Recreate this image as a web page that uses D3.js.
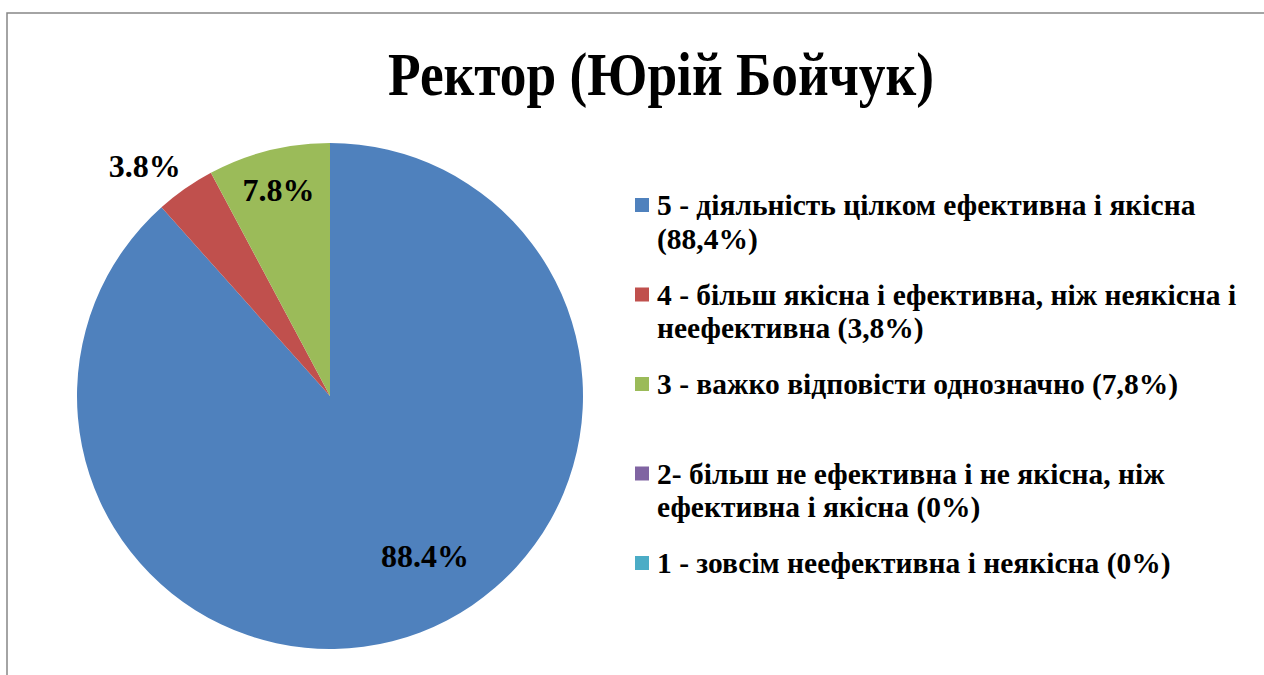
<!DOCTYPE html>
<html>
<head>
<meta charset="utf-8">
<script src="https://cdn.jsdelivr.net/npm/d3@7"></script>
<style>
html,body{margin:0;padding:0;background:#fff;}
svg{display:block;}
text{font-family:"Liberation Serif","Times New Roman",serif;font-weight:bold;fill:#000;}
</style>
</head>
<body>
<svg id="chart" width="1264" height="675"></svg>
<script>
const title = "Ректор (Юрій Бойчук)";
const categories = ["5", "4", "3", "2", "1"];
const values = [88.4, 3.8, 7.8, 0, 0];
const colors = ["#4F81BD", "#C0504D", "#9BBB59", "#8064A2", "#4BACC6"];
const legendLines = [
  ["5 - діяльність цілком ефективна і якісна", "(88,4%)"],
  ["4 - більш якісна і ефективна, ніж неякісна і", "неефективна (3,8%)"],
  ["3 - важко відповісти однозначно (7,8%)"],
  ["2- більш не ефективна і не якісна, ніж", "ефективна і якісна (0%)"],
  ["1 - зовсім неефективна і неякісна (0%)"]
];
// label placement: [radius, angle offset in degrees] relative to slice mid-angle
const labelPlacement = [[186, -9.8], [295, -4], [212, 0], null, null];

const svg = d3.select("#chart");
const W = 1264, H = 675;

// outer border
svg.append("rect")
  .attr("x", 7).attr("y", 13)
  .attr("width", W + 20).attr("height", H + 20)
  .attr("fill", "#fff").attr("stroke", "#868686").attr("stroke-width", 1.5);

// title
svg.append("text")
  .attr("x", 661).attr("y", 95)
  .attr("text-anchor", "middle")
  .attr("textLength", 546).attr("lengthAdjust", "spacingAndGlyphs")
  .style("font-size", "61px")
  .text(title);

// pie
const cx = 330, cy = 396, R = 253;
const pie = d3.pie().sort(null).value(d => d)(values);
const arc = d3.arc().innerRadius(0).outerRadius(R);
const g = svg.append("g").attr("transform", `translate(${cx},${cy})`);
g.selectAll("path").data(pie).enter().append("path")
  .attr("d", arc)
  .attr("fill", (d, i) => colors[i]);

// data labels
const fmt = v => v.toFixed(1) + "%";
g.selectAll("text.lbl").data(pie.filter((d, i) => labelPlacement[i])).enter()
  .append("text").attr("class", "lbl")
  .attr("text-anchor", "middle")
  .attr("dominant-baseline", "central")
  .style("font-size", "32px")
  .attr("transform", d => {
    const p = labelPlacement[d.index];
    const a = (d.startAngle + d.endAngle) / 2 + p[1] * Math.PI / 180;
    return `translate(${p[0] * Math.sin(a)},${-p[0] * Math.cos(a)})`;
  })
  .text(d => fmt(d.value));

// legend
const legX = 635, legTextX = 657, legY0 = 215, legStep = 89.5, lineH = 33.5, box = 14;
const lg = svg.append("g");
legendLines.forEach((lines, i) => {
  const y = legY0 + i * legStep;
  lg.append("rect")
    .attr("x", legX).attr("y", y - 17).attr("width", box).attr("height", box)
    .attr("fill", colors[i]);
  lines.forEach((t, j) => {
    lg.append("text")
      .attr("x", legTextX).attr("y", y + j * lineH)
      .style("font-size", "29.5px")
      .text(t);
  });
});
</script>
</body>
</html>
